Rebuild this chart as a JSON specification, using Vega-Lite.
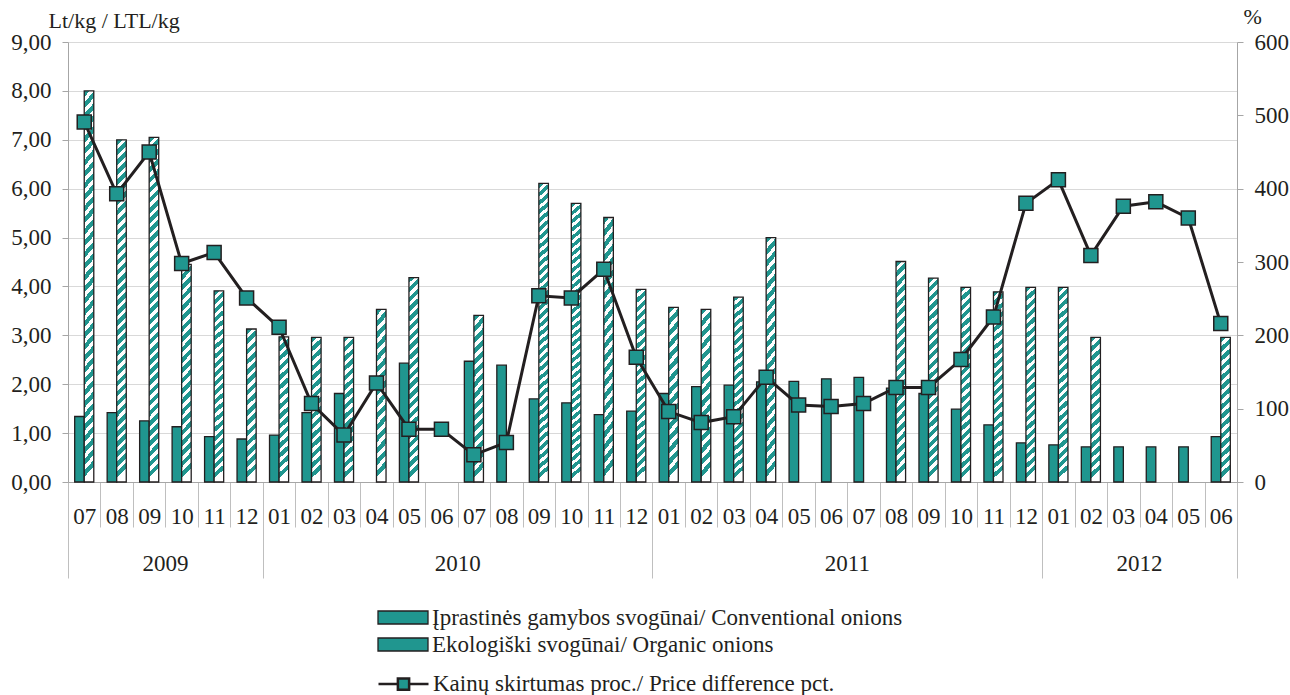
{
  "$schema": "https://vega.github.io/schema/vega-lite/v6.json",
  "width": 1169,
  "height": 440,
  "autosize": {"type": "none"},
  "padding": {"left": 68, "top": 42, "right": 53, "bottom": 213},
  "background": "white",
  "config": {
    "font": "Liberation Serif",
    "view": {"stroke": null},
    "axis": {"labelFont": "Liberation Serif", "titleFont": "Liberation Serif", "labelColor": "#231f20", "titleColor": "#231f20", "labelFontSize": 23, "titleFontSize": 23, "titleFontWeight": "normal"}
  },
  "datasets": {
    "prices": [
      {"month": "2009-07", "series": "conv", "price": 1.34},
      {"month": "2009-08", "series": "conv", "price": 1.42},
      {"month": "2009-09", "series": "conv", "price": 1.25},
      {"month": "2009-10", "series": "conv", "price": 1.13},
      {"month": "2009-11", "series": "conv", "price": 0.93},
      {"month": "2009-12", "series": "conv", "price": 0.88},
      {"month": "2010-01", "series": "conv", "price": 0.96},
      {"month": "2010-02", "series": "conv", "price": 1.42},
      {"month": "2010-03", "series": "conv", "price": 1.81},
      {"month": "2010-05", "series": "conv", "price": 2.43},
      {"month": "2010-07", "series": "conv", "price": 2.47},
      {"month": "2010-08", "series": "conv", "price": 2.39},
      {"month": "2010-09", "series": "conv", "price": 1.70},
      {"month": "2010-10", "series": "conv", "price": 1.62},
      {"month": "2010-11", "series": "conv", "price": 1.38},
      {"month": "2010-12", "series": "conv", "price": 1.45},
      {"month": "2011-01", "series": "conv", "price": 1.81},
      {"month": "2011-02", "series": "conv", "price": 1.95},
      {"month": "2011-03", "series": "conv", "price": 1.98},
      {"month": "2011-04", "series": "conv", "price": 2.05},
      {"month": "2011-05", "series": "conv", "price": 2.06},
      {"month": "2011-06", "series": "conv", "price": 2.11},
      {"month": "2011-07", "series": "conv", "price": 2.14},
      {"month": "2011-08", "series": "conv", "price": 1.92},
      {"month": "2011-09", "series": "conv", "price": 1.81},
      {"month": "2011-10", "series": "conv", "price": 1.49},
      {"month": "2011-11", "series": "conv", "price": 1.17},
      {"month": "2011-12", "series": "conv", "price": 0.80},
      {"month": "2012-01", "series": "conv", "price": 0.76},
      {"month": "2012-02", "series": "conv", "price": 0.72},
      {"month": "2012-03", "series": "conv", "price": 0.72},
      {"month": "2012-04", "series": "conv", "price": 0.72},
      {"month": "2012-05", "series": "conv", "price": 0.72},
      {"month": "2012-06", "series": "conv", "price": 0.93},
      {"month": "2009-07", "series": "org", "price": 8.00},
      {"month": "2009-08", "series": "org", "price": 7.00},
      {"month": "2009-09", "series": "org", "price": 7.05},
      {"month": "2009-10", "series": "org", "price": 4.45},
      {"month": "2009-11", "series": "org", "price": 3.91},
      {"month": "2009-12", "series": "org", "price": 3.13},
      {"month": "2010-01", "series": "org", "price": 2.97},
      {"month": "2010-02", "series": "org", "price": 2.96},
      {"month": "2010-03", "series": "org", "price": 2.96},
      {"month": "2010-04", "series": "org", "price": 3.53},
      {"month": "2010-05", "series": "org", "price": 4.18},
      {"month": "2010-07", "series": "org", "price": 3.41},
      {"month": "2010-09", "series": "org", "price": 6.11},
      {"month": "2010-10", "series": "org", "price": 5.70},
      {"month": "2010-11", "series": "org", "price": 5.41},
      {"month": "2010-12", "series": "org", "price": 3.94},
      {"month": "2011-01", "series": "org", "price": 3.57},
      {"month": "2011-02", "series": "org", "price": 3.53},
      {"month": "2011-03", "series": "org", "price": 3.78},
      {"month": "2011-04", "series": "org", "price": 5.00},
      {"month": "2011-08", "series": "org", "price": 4.51},
      {"month": "2011-09", "series": "org", "price": 4.17},
      {"month": "2011-10", "series": "org", "price": 3.98},
      {"month": "2011-11", "series": "org", "price": 3.89},
      {"month": "2011-12", "series": "org", "price": 3.98},
      {"month": "2012-01", "series": "org", "price": 3.98},
      {"month": "2012-02", "series": "org", "price": 2.96},
      {"month": "2012-06", "series": "org", "price": 2.96}
    ],
    "diff": [
      {"month": "2009-07", "pct": 491}, {"month": "2009-08", "pct": 393}, {"month": "2009-09", "pct": 450},
      {"month": "2009-10", "pct": 298}, {"month": "2009-11", "pct": 313}, {"month": "2009-12", "pct": 251},
      {"month": "2010-01", "pct": 211}, {"month": "2010-02", "pct": 107}, {"month": "2010-03", "pct": 64},
      {"month": "2010-04", "pct": 135}, {"month": "2010-05", "pct": 72}, {"month": "2010-06", "pct": 72},
      {"month": "2010-07", "pct": 37}, {"month": "2010-08", "pct": 54}, {"month": "2010-09", "pct": 254},
      {"month": "2010-10", "pct": 251}, {"month": "2010-11", "pct": 290}, {"month": "2010-12", "pct": 170},
      {"month": "2011-01", "pct": 96}, {"month": "2011-02", "pct": 81}, {"month": "2011-03", "pct": 89},
      {"month": "2011-04", "pct": 143}, {"month": "2011-05", "pct": 105}, {"month": "2011-06", "pct": 103},
      {"month": "2011-07", "pct": 107}, {"month": "2011-08", "pct": 129}, {"month": "2011-09", "pct": 129},
      {"month": "2011-10", "pct": 167}, {"month": "2011-11", "pct": 225}, {"month": "2011-12", "pct": 380},
      {"month": "2012-01", "pct": 412}, {"month": "2012-02", "pct": 309}, {"month": "2012-03", "pct": 376},
      {"month": "2012-04", "pct": 382}, {"month": "2012-05", "pct": 360}, {"month": "2012-06", "pct": 216}
    ],
    "years": [
      {"month": "2009-10", "year": "2009"},
      {"month": "2010-07", "year": "2010"},
      {"month": "2011-07", "year": "2011"},
      {"month": "2012-04", "year": "2012"}
    ]
  },
  "layer": [
    {
      "data": {"name": "prices"},
      "transform": [{"filter": "datum.series === 'conv'"}],
      "mark": {"type": "bar", "stroke": "#231f20", "strokeWidth": 1.3},
      "encoding": {
        "x": {"field": "month", "type": "nominal", "scale": {"type": "band", "paddingInner": 0, "paddingOuter": 0},
          "axis": {"title": null, "orient": "bottom", "labelAngle": 0, "tickBand": "extent", "tickColor": "#bfbfbf", "domainColor": "#a6a6a6", "labelBaseline": "top", "grid": false,
            "labelExpr": "datum.value ? slice(datum.value, 5) : ''",
            "tickSize": {"condition": {"test": "datum.extra || datum.value === '2009-12' || datum.value === '2010-12' || datum.value === '2011-12' || datum.value === '2012-06'", "value": 96}, "value": 45},
            "labelPadding": {"condition": {"test": "datum.extra || datum.value === '2009-12' || datum.value === '2010-12' || datum.value === '2011-12' || datum.value === '2012-06'", "value": -73}, "value": -22}}},
        "xOffset": {"field": "series", "type": "nominal", "scale": {"domain": ["conv", "org"], "paddingInner": 0, "paddingOuter": 0.7}},
        "y": {"field": "price", "type": "quantitative", "scale": {"domain": [0, 9]},
          "axis": {"title": "Lt/kg / LTL/kg", "titleAngle": 0, "titleAlign": "left", "titleBaseline": "alphabetic", "titleX": -20, "titleY": -15, "titleFontSize": 22, "values": [0, 1, 2, 3, 4, 5, 6, 7, 8, 9], "labelExpr": "replace(format(datum.value, '.2f'), '.', ',')", "grid": true, "gridColor": "#d9d9d9", "tickSize": 6, "tickColor": "#a6a6a6", "domainColor": "#a6a6a6", "labelPadding": 11}},
        "fill": {"field": "series", "type": "nominal",
          "scale": {"domain": ["conv", "org"], "range": ["#20968f", "#20968f"]},
          "legend": {
            "orient": "none", "legendX": 321.5, "legendY": 562, "title": null, "direction": "vertical", "padding": 0, "rowPadding": 1,
            "symbolType": "M-2,-0.52H2V0.52H-2Z", "symbolSize": 625, "symbolStrokeColor": "#231f20", "symbolStrokeWidth": 1.3,
            "labelOffset": 15.5, "labelFontSize": 23, "labelFont": "Liberation Serif", "labelColor": "#231f20", "labelLimit": 1000,
            "labelExpr": "datum.value === 'conv' ? 'Įprastinės gamybos svogūnai/ Conventional onions' : 'Ekologiški svogūnai/ Organic onions'"
          }}
      }
    },
    {
      "data": {"name": "prices"},
      "transform": [{"filter": "datum.series === 'org' && datum.price > 5.5"}],
      "mark": {"type": "bar", "stroke": "#231f20", "strokeWidth": 1.3, "fill": {"gradient": "linear", "x1": 0, "y1": 0, "x2": 0.028, "y2": 1, "stops": [
              {"offset": 0, "color": "#20968f"}, {"offset": 0.0162, "color": "#20968f"}, {"offset": 0.0162, "color": "#ffffff"}, {"offset": 0.0294, "color": "#ffffff"},
              {"offset": 0.0294, "color": "#20968f"}, {"offset": 0.0456, "color": "#20968f"}, {"offset": 0.0456, "color": "#ffffff"}, {"offset": 0.0588, "color": "#ffffff"},
              {"offset": 0.0588, "color": "#20968f"}, {"offset": 0.075, "color": "#20968f"}, {"offset": 0.075, "color": "#ffffff"}, {"offset": 0.0882, "color": "#ffffff"},
              {"offset": 0.0882, "color": "#20968f"}, {"offset": 0.1044, "color": "#20968f"}, {"offset": 0.1044, "color": "#ffffff"}, {"offset": 0.1176, "color": "#ffffff"},
              {"offset": 0.1176, "color": "#20968f"}, {"offset": 0.1338, "color": "#20968f"}, {"offset": 0.1338, "color": "#ffffff"}, {"offset": 0.1471, "color": "#ffffff"},
              {"offset": 0.1471, "color": "#20968f"}, {"offset": 0.1632, "color": "#20968f"}, {"offset": 0.1632, "color": "#ffffff"}, {"offset": 0.1765, "color": "#ffffff"},
              {"offset": 0.1765, "color": "#20968f"}, {"offset": 0.1926, "color": "#20968f"}, {"offset": 0.1926, "color": "#ffffff"}, {"offset": 0.2059, "color": "#ffffff"},
              {"offset": 0.2059, "color": "#20968f"}, {"offset": 0.2221, "color": "#20968f"}, {"offset": 0.2221, "color": "#ffffff"}, {"offset": 0.2353, "color": "#ffffff"},
              {"offset": 0.2353, "color": "#20968f"}, {"offset": 0.2515, "color": "#20968f"}, {"offset": 0.2515, "color": "#ffffff"}, {"offset": 0.2647, "color": "#ffffff"},
              {"offset": 0.2647, "color": "#20968f"}, {"offset": 0.2809, "color": "#20968f"}, {"offset": 0.2809, "color": "#ffffff"}, {"offset": 0.2941, "color": "#ffffff"},
              {"offset": 0.2941, "color": "#20968f"}, {"offset": 0.3103, "color": "#20968f"}, {"offset": 0.3103, "color": "#ffffff"}, {"offset": 0.3235, "color": "#ffffff"},
              {"offset": 0.3235, "color": "#20968f"}, {"offset": 0.3397, "color": "#20968f"}, {"offset": 0.3397, "color": "#ffffff"}, {"offset": 0.3529, "color": "#ffffff"},
              {"offset": 0.3529, "color": "#20968f"}, {"offset": 0.3691, "color": "#20968f"}, {"offset": 0.3691, "color": "#ffffff"}, {"offset": 0.3824, "color": "#ffffff"},
              {"offset": 0.3824, "color": "#20968f"}, {"offset": 0.3985, "color": "#20968f"}, {"offset": 0.3985, "color": "#ffffff"}, {"offset": 0.4118, "color": "#ffffff"},
              {"offset": 0.4118, "color": "#20968f"}, {"offset": 0.4279, "color": "#20968f"}, {"offset": 0.4279, "color": "#ffffff"}, {"offset": 0.4412, "color": "#ffffff"},
              {"offset": 0.4412, "color": "#20968f"}, {"offset": 0.4574, "color": "#20968f"}, {"offset": 0.4574, "color": "#ffffff"}, {"offset": 0.4706, "color": "#ffffff"},
              {"offset": 0.4706, "color": "#20968f"}, {"offset": 0.4868, "color": "#20968f"}, {"offset": 0.4868, "color": "#ffffff"}, {"offset": 0.5, "color": "#ffffff"},
              {"offset": 0.5, "color": "#20968f"}, {"offset": 0.5162, "color": "#20968f"}, {"offset": 0.5162, "color": "#ffffff"}, {"offset": 0.5294, "color": "#ffffff"},
              {"offset": 0.5294, "color": "#20968f"}, {"offset": 0.5456, "color": "#20968f"}, {"offset": 0.5456, "color": "#ffffff"}, {"offset": 0.5588, "color": "#ffffff"},
              {"offset": 0.5588, "color": "#20968f"}, {"offset": 0.575, "color": "#20968f"}, {"offset": 0.575, "color": "#ffffff"}, {"offset": 0.5882, "color": "#ffffff"},
              {"offset": 0.5882, "color": "#20968f"}, {"offset": 0.6044, "color": "#20968f"}, {"offset": 0.6044, "color": "#ffffff"}, {"offset": 0.6176, "color": "#ffffff"},
              {"offset": 0.6176, "color": "#20968f"}, {"offset": 0.6338, "color": "#20968f"}, {"offset": 0.6338, "color": "#ffffff"}, {"offset": 0.6471, "color": "#ffffff"},
              {"offset": 0.6471, "color": "#20968f"}, {"offset": 0.6632, "color": "#20968f"}, {"offset": 0.6632, "color": "#ffffff"}, {"offset": 0.6765, "color": "#ffffff"},
              {"offset": 0.6765, "color": "#20968f"}, {"offset": 0.6926, "color": "#20968f"}, {"offset": 0.6926, "color": "#ffffff"}, {"offset": 0.7059, "color": "#ffffff"},
              {"offset": 0.7059, "color": "#20968f"}, {"offset": 0.7221, "color": "#20968f"}, {"offset": 0.7221, "color": "#ffffff"}, {"offset": 0.7353, "color": "#ffffff"},
              {"offset": 0.7353, "color": "#20968f"}, {"offset": 0.7515, "color": "#20968f"}, {"offset": 0.7515, "color": "#ffffff"}, {"offset": 0.7647, "color": "#ffffff"},
              {"offset": 0.7647, "color": "#20968f"}, {"offset": 0.7809, "color": "#20968f"}, {"offset": 0.7809, "color": "#ffffff"}, {"offset": 0.7941, "color": "#ffffff"},
              {"offset": 0.7941, "color": "#20968f"}, {"offset": 0.8103, "color": "#20968f"}, {"offset": 0.8103, "color": "#ffffff"}, {"offset": 0.8235, "color": "#ffffff"},
              {"offset": 0.8235, "color": "#20968f"}, {"offset": 0.8397, "color": "#20968f"}, {"offset": 0.8397, "color": "#ffffff"}, {"offset": 0.8529, "color": "#ffffff"},
              {"offset": 0.8529, "color": "#20968f"}, {"offset": 0.8691, "color": "#20968f"}, {"offset": 0.8691, "color": "#ffffff"}, {"offset": 0.8824, "color": "#ffffff"},
              {"offset": 0.8824, "color": "#20968f"}, {"offset": 0.8985, "color": "#20968f"}, {"offset": 0.8985, "color": "#ffffff"}, {"offset": 0.9118, "color": "#ffffff"},
              {"offset": 0.9118, "color": "#20968f"}, {"offset": 0.9279, "color": "#20968f"}, {"offset": 0.9279, "color": "#ffffff"}, {"offset": 0.9412, "color": "#ffffff"},
              {"offset": 0.9412, "color": "#20968f"}, {"offset": 0.9574, "color": "#20968f"}, {"offset": 0.9574, "color": "#ffffff"}, {"offset": 0.9706, "color": "#ffffff"},
              {"offset": 0.9706, "color": "#20968f"}, {"offset": 0.9868, "color": "#20968f"}, {"offset": 0.9868, "color": "#ffffff"}, {"offset": 1, "color": "#ffffff"}
            ]}},
      "encoding": {
        "x": {"field": "month", "type": "nominal"},
        "xOffset": {"field": "series", "type": "nominal"},
        "y": {"field": "price", "type": "quantitative", "scale": {"domain": [0, 9]}, "axis": null}
      }
    },
    {
      "data": {"name": "prices"},
      "transform": [{"filter": "datum.series === 'org' && datum.price > 3.7 && datum.price <= 5.5"}],
      "mark": {"type": "bar", "stroke": "#231f20", "strokeWidth": 1.3, "fill": {"gradient": "linear", "x1": 0, "y1": 0, "x2": 0.046, "y2": 1, "stops": [
              {"offset": 0, "color": "#20968f"}, {"offset": 0.0262, "color": "#20968f"}, {"offset": 0.0262, "color": "#ffffff"}, {"offset": 0.0476, "color": "#ffffff"},
              {"offset": 0.0476, "color": "#20968f"}, {"offset": 0.0738, "color": "#20968f"}, {"offset": 0.0738, "color": "#ffffff"}, {"offset": 0.0952, "color": "#ffffff"},
              {"offset": 0.0952, "color": "#20968f"}, {"offset": 0.1214, "color": "#20968f"}, {"offset": 0.1214, "color": "#ffffff"}, {"offset": 0.1429, "color": "#ffffff"},
              {"offset": 0.1429, "color": "#20968f"}, {"offset": 0.169, "color": "#20968f"}, {"offset": 0.169, "color": "#ffffff"}, {"offset": 0.1905, "color": "#ffffff"},
              {"offset": 0.1905, "color": "#20968f"}, {"offset": 0.2167, "color": "#20968f"}, {"offset": 0.2167, "color": "#ffffff"}, {"offset": 0.2381, "color": "#ffffff"},
              {"offset": 0.2381, "color": "#20968f"}, {"offset": 0.2643, "color": "#20968f"}, {"offset": 0.2643, "color": "#ffffff"}, {"offset": 0.2857, "color": "#ffffff"},
              {"offset": 0.2857, "color": "#20968f"}, {"offset": 0.3119, "color": "#20968f"}, {"offset": 0.3119, "color": "#ffffff"}, {"offset": 0.3333, "color": "#ffffff"},
              {"offset": 0.3333, "color": "#20968f"}, {"offset": 0.3595, "color": "#20968f"}, {"offset": 0.3595, "color": "#ffffff"}, {"offset": 0.381, "color": "#ffffff"},
              {"offset": 0.381, "color": "#20968f"}, {"offset": 0.4071, "color": "#20968f"}, {"offset": 0.4071, "color": "#ffffff"}, {"offset": 0.4286, "color": "#ffffff"},
              {"offset": 0.4286, "color": "#20968f"}, {"offset": 0.4548, "color": "#20968f"}, {"offset": 0.4548, "color": "#ffffff"}, {"offset": 0.4762, "color": "#ffffff"},
              {"offset": 0.4762, "color": "#20968f"}, {"offset": 0.5024, "color": "#20968f"}, {"offset": 0.5024, "color": "#ffffff"}, {"offset": 0.5238, "color": "#ffffff"},
              {"offset": 0.5238, "color": "#20968f"}, {"offset": 0.55, "color": "#20968f"}, {"offset": 0.55, "color": "#ffffff"}, {"offset": 0.5714, "color": "#ffffff"},
              {"offset": 0.5714, "color": "#20968f"}, {"offset": 0.5976, "color": "#20968f"}, {"offset": 0.5976, "color": "#ffffff"}, {"offset": 0.619, "color": "#ffffff"},
              {"offset": 0.619, "color": "#20968f"}, {"offset": 0.6452, "color": "#20968f"}, {"offset": 0.6452, "color": "#ffffff"}, {"offset": 0.6667, "color": "#ffffff"},
              {"offset": 0.6667, "color": "#20968f"}, {"offset": 0.6929, "color": "#20968f"}, {"offset": 0.6929, "color": "#ffffff"}, {"offset": 0.7143, "color": "#ffffff"},
              {"offset": 0.7143, "color": "#20968f"}, {"offset": 0.7405, "color": "#20968f"}, {"offset": 0.7405, "color": "#ffffff"}, {"offset": 0.7619, "color": "#ffffff"},
              {"offset": 0.7619, "color": "#20968f"}, {"offset": 0.7881, "color": "#20968f"}, {"offset": 0.7881, "color": "#ffffff"}, {"offset": 0.8095, "color": "#ffffff"},
              {"offset": 0.8095, "color": "#20968f"}, {"offset": 0.8357, "color": "#20968f"}, {"offset": 0.8357, "color": "#ffffff"}, {"offset": 0.8571, "color": "#ffffff"},
              {"offset": 0.8571, "color": "#20968f"}, {"offset": 0.8833, "color": "#20968f"}, {"offset": 0.8833, "color": "#ffffff"}, {"offset": 0.9048, "color": "#ffffff"},
              {"offset": 0.9048, "color": "#20968f"}, {"offset": 0.931, "color": "#20968f"}, {"offset": 0.931, "color": "#ffffff"}, {"offset": 0.9524, "color": "#ffffff"},
              {"offset": 0.9524, "color": "#20968f"}, {"offset": 0.9786, "color": "#20968f"}, {"offset": 0.9786, "color": "#ffffff"}, {"offset": 1, "color": "#ffffff"}
            ]}},
      "encoding": {
        "x": {"field": "month", "type": "nominal"},
        "xOffset": {"field": "series", "type": "nominal"},
        "y": {"field": "price", "type": "quantitative", "scale": {"domain": [0, 9]}, "axis": null}
      }
    },
    {
      "data": {"name": "prices"},
      "transform": [{"filter": "datum.series === 'org' && datum.price <= 3.7"}],
      "mark": {"type": "bar", "stroke": "#231f20", "strokeWidth": 1.3, "fill": {"gradient": "linear", "x1": 0, "y1": 0, "x2": 0.061, "y2": 1, "stops": [
            {"offset": 0, "color": "#20968f"}, {"offset": 0.0367, "color": "#20968f"}, {"offset": 0.0367, "color": "#ffffff"}, {"offset": 0.0667, "color": "#ffffff"},
            {"offset": 0.0667, "color": "#20968f"}, {"offset": 0.1033, "color": "#20968f"}, {"offset": 0.1033, "color": "#ffffff"}, {"offset": 0.1333, "color": "#ffffff"},
            {"offset": 0.1333, "color": "#20968f"}, {"offset": 0.17, "color": "#20968f"}, {"offset": 0.17, "color": "#ffffff"}, {"offset": 0.2, "color": "#ffffff"},
            {"offset": 0.2, "color": "#20968f"}, {"offset": 0.2367, "color": "#20968f"}, {"offset": 0.2367, "color": "#ffffff"}, {"offset": 0.2667, "color": "#ffffff"},
            {"offset": 0.2667, "color": "#20968f"}, {"offset": 0.3033, "color": "#20968f"}, {"offset": 0.3033, "color": "#ffffff"}, {"offset": 0.3333, "color": "#ffffff"},
            {"offset": 0.3333, "color": "#20968f"}, {"offset": 0.37, "color": "#20968f"}, {"offset": 0.37, "color": "#ffffff"}, {"offset": 0.4, "color": "#ffffff"},
            {"offset": 0.4, "color": "#20968f"}, {"offset": 0.4367, "color": "#20968f"}, {"offset": 0.4367, "color": "#ffffff"}, {"offset": 0.4667, "color": "#ffffff"},
            {"offset": 0.4667, "color": "#20968f"}, {"offset": 0.5033, "color": "#20968f"}, {"offset": 0.5033, "color": "#ffffff"}, {"offset": 0.5333, "color": "#ffffff"},
            {"offset": 0.5333, "color": "#20968f"}, {"offset": 0.57, "color": "#20968f"}, {"offset": 0.57, "color": "#ffffff"}, {"offset": 0.6, "color": "#ffffff"},
            {"offset": 0.6, "color": "#20968f"}, {"offset": 0.6367, "color": "#20968f"}, {"offset": 0.6367, "color": "#ffffff"}, {"offset": 0.6667, "color": "#ffffff"},
            {"offset": 0.6667, "color": "#20968f"}, {"offset": 0.7033, "color": "#20968f"}, {"offset": 0.7033, "color": "#ffffff"}, {"offset": 0.7333, "color": "#ffffff"},
            {"offset": 0.7333, "color": "#20968f"}, {"offset": 0.77, "color": "#20968f"}, {"offset": 0.77, "color": "#ffffff"}, {"offset": 0.8, "color": "#ffffff"},
            {"offset": 0.8, "color": "#20968f"}, {"offset": 0.8367, "color": "#20968f"}, {"offset": 0.8367, "color": "#ffffff"}, {"offset": 0.8667, "color": "#ffffff"},
            {"offset": 0.8667, "color": "#20968f"}, {"offset": 0.9033, "color": "#20968f"}, {"offset": 0.9033, "color": "#ffffff"}, {"offset": 0.9333, "color": "#ffffff"},
            {"offset": 0.9333, "color": "#20968f"}, {"offset": 0.97, "color": "#20968f"}, {"offset": 0.97, "color": "#ffffff"}, {"offset": 1, "color": "#ffffff"}
          ]}},
      "encoding": {
        "x": {"field": "month", "type": "nominal"},
        "xOffset": {"field": "series", "type": "nominal"},
        "y": {"field": "price", "type": "quantitative", "scale": {"domain": [0, 9]}, "axis": null}
      }
    },
    {
      "data": {"name": "diff"},
      "mark": {"type": "line", "strokeWidth": 3},
      "encoding": {
        "x": {"field": "month", "type": "nominal"},
        "y": {"field": "pct", "type": "quantitative", "scale": {"domain": [0, 600]},
          "axis": {"orient": "right", "title": "%", "titleAngle": 0, "titleAlign": "left", "titleBaseline": "alphabetic", "titleX": 6, "titleY": -19, "titleFontSize": 22, "values": [0, 100, 200, 300, 400, 500, 600], "grid": false, "tickSize": 6, "tickColor": "#a6a6a6", "domainColor": "#a6a6a6", "labelPadding": 11}},
        "stroke": {"datum": "diff", "type": "nominal", "scale": {"domain": ["diff"], "range": ["#231f20"]},
          "legend": {
            "orient": "none", "legendX": 321.5, "legendY": 628, "title": null, "padding": 0,
            "symbolType": "M-2,0H-0.45M0.45,0H2M-0.45,-0.45H0.45V0.45H-0.45Z", "symbolSize": 625, "symbolStrokeWidth": 2.5, "symbolFillColor": "#20968f", "symbolStrokeColor": "#231f20",
            "labelOffset": 15.5, "labelFontSize": 23, "labelFont": "Liberation Serif", "labelColor": "#231f20", "labelLimit": 1000,
            "labelExpr": "'Kainų skirtumas proc./ Price difference pct.'"
          }}
      }
    },
    {
      "data": {"name": "diff"},
      "mark": {"type": "point", "shape": "square", "filled": true, "size": 196, "fill": "#20968f", "stroke": "#231f20", "strokeWidth": 1.5, "opacity": 1},
      "encoding": {
        "x": {"field": "month", "type": "nominal"},
        "y": {"field": "pct", "type": "quantitative", "scale": {"domain": [0, 600]}, "axis": null}
      }
    },
    {
      "data": {"name": "years"},
      "mark": {"type": "text", "font": "Liberation Serif", "fontSize": 23, "color": "#231f20", "align": "center", "baseline": "alphabetic", "dy": 89},
      "encoding": {
        "x": {"field": "month", "type": "nominal", "bandPosition": 0},
        "y": {"value": "height"},
        "text": {"field": "year"}
      }
    }
  ],
  "resolve": {"scale": {"y": "independent"}}
}
